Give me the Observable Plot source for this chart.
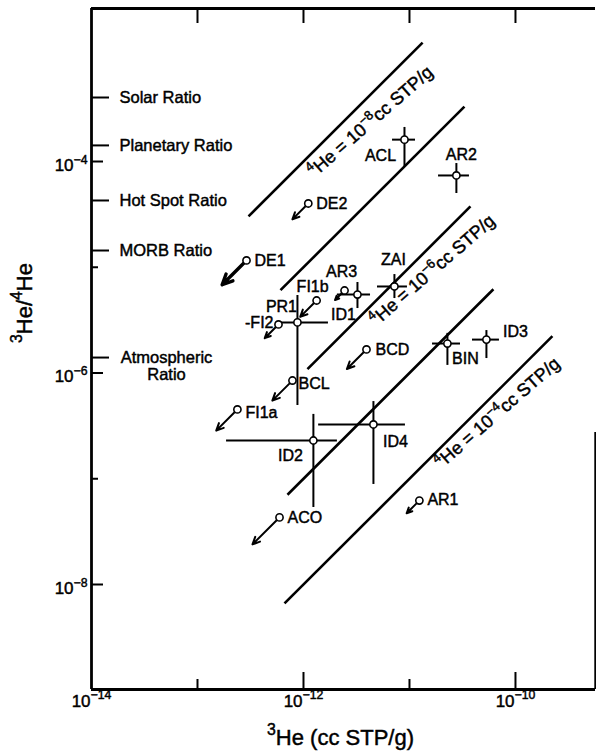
<!DOCTYPE html>
<html><head><meta charset="utf-8">
<script src="https://cdn.jsdelivr.net/npm/d3@7"></script>
<script src="https://cdn.jsdelivr.net/npm/@observablehq/plot@0.6"></script>
<style>
html,body{margin:0;padding:0;background:#fff;}
#chart svg{display:block;}
#chart svg text{stroke:#000;stroke-width:0.45px;}
</style></head><body><div id="chart"></div>
<script>
// ---------- data ----------
const sampleNames = ["ACL","AR2","DE2","DE1","ZAI","AR3","ID1","FI1b","PR1","FI2","BCD","BIN","ID3","BCL","FI1a","ID2","ID4","ACO","AR1"];
const he3Values   = [8.97e-12,2.77e-11,1.11e-12,2.90e-13,7.21e-12,2.44e-12,3.23e-12,1.33e-12,8.77e-13,5.81e-13,3.93e-12,2.28e-11,5.32e-11,7.87e-13,2.38e-13,1.24e-12,4.57e-12,5.94e-13,1.24e-11];
const ratioValues = [1.61e-4,7.38e-5,4.01e-5,1.16e-5,6.58e-6,6.03e-6,5.52e-6,4.85e-6,3.01e-6,2.88e-6,1.67e-6,1.90e-6,2.07e-6,8.49e-7,4.52e-7,2.30e-7,3.26e-7,4.31e-8,6.22e-8];
// upper limits: length of the limit arrow, in decades (0 = measured value)
const upperLimitDecades = [0,0,0.15,0.23,0,0.09,0,0.155,0,0.13,0.185,0,0,0.19,0.2,0,0,0.255,0.12];
// error ranges (null = none)
const he3Low    = [6.92e-12,1.88e-11,null,null,4.99e-12,null,2.09e-12,null,6.07e-13,null,null,1.65e-11,3.93e-11,null,null,1.88e-13,1.39e-12,null,null];
const he3High   = [1.14e-11,3.68e-11,null,null,9.57e-12,null,4.29e-12,null,1.72e-12,null,null,3.03e-11,7.06e-11,null,null,2.09e-12,9.16e-12,null,null];
const ratioLow  = [8.97e-5,4.98e-5,null,null,5.06e-6,null,4.07e-6,null,4.93e-7,null,null,1.18e-6,1.37e-6,null,null,5.35e-8,8.83e-8,null,null];
const ratioHigh = [2.10e-4,9.57e-5,null,null,8.53e-6,null,7.18e-6,null,5.41e-6,null,null,2.37e-6,2.52e-6,null,null,4.06e-7,5.37e-7,null,null];

// constant-4He lines
const he4Lines     = [1e-8, 1e-7, 1e-6, 1e-5, 1e-4];
const lineHe3Start = [3.03e-13, 6.07e-13, 1.09e-12, 7.06e-13, 6.62e-13];
const lineHe3End   = [1.33e-11, 3.30e-11, 3.76e-11, 6.19e-11, 2.23e-10];
const lineLabels   = ["^{4}He = 10^{−8}cc STP/g", "", "^{4}He = 10^{−6}cc STP/g", "", "^{4}He = 10^{−4}cc STP/g"];
const lineLabelHe3 = [4.29e-12, null, 1.65e-11, null, 6.76e-11];

// reference ratios
const refRatioNames  = ["Solar Ratio","Planetary Ratio","Hot Spot Ratio","MORB Ratio","Atmospheric\nRatio"];
const refRatioValues = [4.03e-4, 1.42e-4, 4.28e-5, 1.44e-5, 1.40e-6];

// ticks
const xTickValues = [1e-14, 1e-13, 1e-12, 1e-11, 1e-10];
const xTickLabels = ["10^{−14}", "", "10^{−12}", "", "10^{−10}"];
const yTickValues = [1e-4, 1e-5, 1e-6, 1e-7, 1e-8];
const yTickLabels = ["10^{−4}", "", "10^{−6}", "", "10^{−8}"];

const xTitle = "^{3}He (cc STP/g)";
const yTitle = "^{3}He/^{4}He";

// ---------- layout ----------
const W = 596, H = 756, mL = 91, mR = 1, mT = 8, mB = 67;
const frameW = W - mL - mR, frameH = H - mT - mB;
const xDomain = [1e-14, 10 ** -9.245];
const yDomain = [10 ** -8.993, 10 ** -2.553];
const FONT = "'Liberation Sans', Arial, Helvetica, sans-serif";

const labelLayout = {
  ACL:{dx:-24,dy:16,a:"middle"}, AR2:{dx:5,dy:-21,a:"middle"}, DE2:{dx:8,dy:0,a:"start"},
  DE1:{dx:8,dy:0,a:"start"}, ZAI:{dx:-1,dy:-27,a:"middle"}, AR3:{dx:-3,dy:-19,a:"middle"},
  ID1:{dx:-14,dy:20,a:"middle"}, FI1b:{dx:-4,dy:-14,a:"middle"}, PR1:{dx:-16,dy:-16,a:"middle"},
  FI2:{dx:-5,dy:-2,a:"end",prefix:"-"}, BCD:{dx:9,dy:0,a:"start"}, BIN:{dx:18,dy:15,a:"middle"},
  ID3:{dx:29,dy:-8,a:"middle"}, BCL:{dx:6,dy:3,a:"start"}, FI1a:{dx:8,dy:3,a:"start"},
  ID2:{dx:-23,dy:15,a:"middle"}, ID4:{dx:22,dy:17,a:"middle"}, ACO:{dx:8,dy:0,a:"start"},
  AR1:{dx:8,dy:-1,a:"start"}
};
const lineLabelDy = [27, 0, 26, 0, 22];

// ---------- tables ----------
const samples = sampleNames.map((name, i) => ({
  name, he3: he3Values[i], ratio: ratioValues[i], limit: upperLimitDecades[i],
  xlo: he3Low[i], xhi: he3High[i], ylo: ratioLow[i], yhi: ratioHigh[i]
}));
const withErr = samples.filter(d => d.xlo != null);
const limits = samples.filter(d => d.limit > 0);
const lines = he4Lines.map((he4, i) => ({he4, start: lineHe3Start[i], end: lineHe3End[i], label: lineLabels[i], lx: lineLabelHe3[i], dy: lineLabelDy[i]}));
const refs = refRatioNames.map((name, i) => ({name, value: refRatioValues[i]}));
const xTicks = xTickValues.map((v, i) => ({v, label: xTickLabels[i], major: i % 2 === 0}));
const yTicks = yTickValues.map((v, i) => ({v, label: yTickLabels[i], major: i % 2 === 0}));

const marks = [];
// constant 4He lines
marks.push(Plot.link(lines, {x1: "start", y1: d => d.start / d.he4, x2: "end", y2: d => d.end / d.he4, stroke: "black", strokeWidth: 2.6}));
lines.filter(d => d.label).forEach(d => {
  marks.push(Plot.text([d], {x: "lx", y: e => e.lx / e.he4, text: "label", rotate: -41, dy: d.dy, fontSize: 18, fill: "black"}));
});
// error bars
marks.push(Plot.ruleY(withErr, {y: "ratio", x1: "xlo", x2: "xhi", stroke: "black", strokeWidth: 2}));
marks.push(Plot.ruleX(withErr, {x: "he3", y1: "ylo", y2: "yhi", stroke: "black", strokeWidth: 2}));
// upper-limit arrows
marks.push(Plot.arrow(limits.filter(d => d.name !== "DE1"), {x1: "he3", y1: "ratio", x2: d => d.he3 / 10 ** d.limit, y2: d => d.ratio / 10 ** d.limit, insetStart: 4, headLength: 6, headAngle: 50, stroke: "black", strokeWidth: 2}));
marks.push(Plot.arrow(limits.filter(d => d.name === "DE1"), {x1: "he3", y1: "ratio", x2: d => d.he3 / 10 ** d.limit, y2: d => d.ratio / 10 ** d.limit, insetStart: 4, headLength: 7, headAngle: 50, stroke: "black", strokeWidth: 3.4}));
// points
marks.push(Plot.dot(samples, {x: "he3", y: "ratio", r: 3.6, fill: "white", stroke: "black", strokeWidth: 1.6}));
// sample labels
samples.forEach(d => {
  const L = labelLayout[d.name];
  marks.push(Plot.text([d], {x: "he3", y: "ratio", text: e => (L.prefix || "") + e.name, dx: L.dx, dy: L.dy, textAnchor: L.a, fontSize: 16, fill: "black"}));
});
// frame
marks.push(Plot.ruleX([xDomain[0]], {stroke: "black", strokeWidth: 2.8}));
marks.push(Plot.ruleY([yDomain[0]], {stroke: "black", strokeWidth: 2.8}));
marks.push(Plot.ruleY([yDomain[1]], {stroke: "black", strokeWidth: 2.8}));
marks.push(Plot.ruleX([xDomain[1]], {stroke: "black", strokeWidth: 2.4, insetTop: 424}));
// ticks (inward)
marks.push(Plot.tickX(xTicks.filter(d => d.v > xDomain[0] && d.major), {x: "v", insetTop: frameH - 17, stroke: "black", strokeWidth: 2}));
marks.push(Plot.tickX(xTicks.filter(d => d.v > xDomain[0] && !d.major), {x: "v", insetTop: frameH - 10, stroke: "black", strokeWidth: 2}));
marks.push(Plot.tickX(xTicks.filter(d => d.v > xDomain[0]), {x: "v", insetBottom: frameH - 15, stroke: "black", strokeWidth: 2}));
marks.push(Plot.tickY(yTicks.filter(d => d.major), {y: "v", insetRight: frameW - 12, stroke: "black", strokeWidth: 2}));
marks.push(Plot.tickY(yTicks.filter(d => !d.major), {y: "v", insetRight: frameW - 7, stroke: "black", strokeWidth: 2}));
marks.push(Plot.tickY(refs, {y: "value", insetRight: frameW - 18, stroke: "black", strokeWidth: 2}));
// reference ratio labels
marks.push(Plot.text(refs.filter(d => !d.name.includes("\n")), {y: "value", text: "name", frameAnchor: "left", dx: 28, textAnchor: "start", fontSize: 16.5, fill: "black"}));
marks.push(Plot.text(refs.filter(d => d.name.includes("\n")), {y: "value", text: "name", frameAnchor: "left", dx: 75, dy: 8.5, textAnchor: "middle", fontSize: 16.5, lineHeight: 1.05, fill: "black"}));
// tick labels
marks.push(Plot.text(xTicks.filter(d => d.label), {x: "v", text: "label", frameAnchor: "bottom", dy: 17, fontSize: 17, fill: "black"}));
marks.push(Plot.text(yTicks.filter(d => d.label), {y: "v", text: "label", frameAnchor: "left", dx: -4, dy: 4, textAnchor: "end", fontSize: 17, fill: "black"}));
// axis titles
marks.push(Plot.text([xTitle], {text: d => d, frameAnchor: "bottom", dx: -3, dy: 55, fontSize: 22, fill: "black"}));
marks.push(Plot.text([yTitle], {text: d => d, frameAnchor: "left", dx: -67, dy: -6, rotate: -90, fontSize: 22, fill: "black"}));

const chart = Plot.plot({
  width: W, height: H,
  marginLeft: mL, marginRight: mR, marginTop: mT, marginBottom: mB,
  x: {type: "log", domain: xDomain, axis: null},
  y: {type: "log", domain: yDomain, axis: null},
  style: {fontFamily: FONT, background: "white", color: "black", overflow: "visible"},
  marks
});
document.getElementById("chart").appendChild(chart);

// superscript markup ^{...} -> tspans
function applySuperscripts(svg) {
  svg.querySelectorAll("text").forEach(t => {
    const s = t.textContent;
    if (!s.includes("^{")) return;
    const fs = parseFloat(getComputedStyle(t).fontSize) || 16;
    while (t.firstChild) t.removeChild(t.firstChild);
    const shift = fs * 0.42, supSize = fs * 0.72;
    let shifted = false;
    const add = (str, isSup) => {
      if (!str) return;
      const ts = document.createElementNS("http://www.w3.org/2000/svg", "tspan");
      ts.textContent = str;
      if (isSup) {
        ts.setAttribute("font-size", supSize);
        if (!shifted) { ts.setAttribute("dy", -shift); shifted = true; }
      } else if (shifted) { ts.setAttribute("dy", shift); shifted = false; }
      t.appendChild(ts);
    };
    const re = /\^\{([^}]*)\}/g;
    let last = 0, m;
    while ((m = re.exec(s))) { add(s.slice(last, m.index), false); add(m[1], true); last = re.lastIndex; }
    add(s.slice(last), false);
  });
}
applySuperscripts(chart);
</script>
</body></html>
